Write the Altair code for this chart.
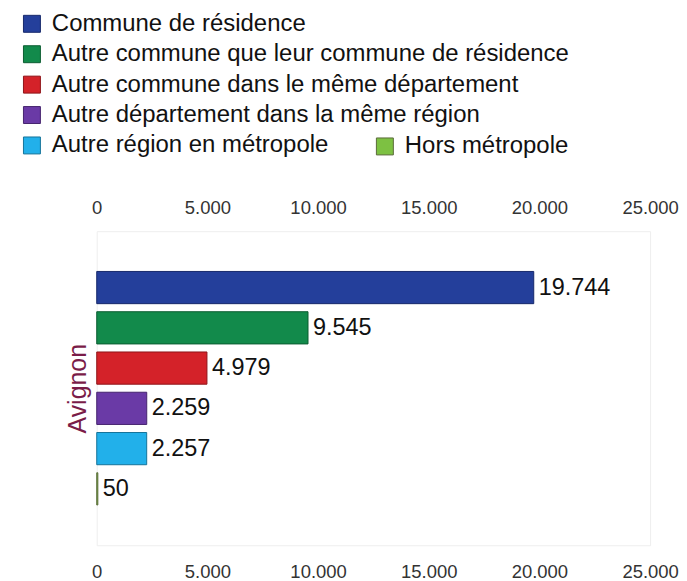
import altair as alt
import pandas as pd

# ---- data ----
categories = [
    "Commune de résidence",
    "Autre commune que leur commune de résidence",
    "Autre commune dans le même département",
    "Autre département dans la même région",
    "Autre région en métropole",
    "Hors métropole",
]
values = [19744, 9545, 4979, 2259, 2257, 50]
group_name = "Avignon"
x_ticks = [0, 5000, 10000, 15000, 20000, 25000]

fill_colors = ["#243f9b", "#128a4b", "#d42229", "#6a3aa6", "#22b0ea", "#7dc142"]
stroke_colors = ["#16286a", "#0b5c31", "#8f1519", "#45246e", "#15739a", "#5a6b3a"]

main_cats = categories[:5]
extra_cats = categories[5:]

df = pd.DataFrame({"cat": categories, "value": values})
df["label"] = [f"{v:,}".replace(",", ".") for v in values]
df["cat2"] = df["cat"]

FONT = "Liberation Sans"
label_expr = "replace(format(datum.value, ','), ',', '.')"

x_scale = alt.Scale(domain=[0, 25000], nice=False)
y_enc = alt.Y(
    "cat:N",
    sort=categories,
    title=group_name,
    scale=alt.Scale(domain=categories, paddingInner=0.2, paddingOuter=1),
    axis=alt.Axis(
        labels=False, ticks=False, domain=False, grid=False,
        titleFontSize=25, titleColor="#7a1c48", titleFontWeight="normal",
        titlePadding=6, titleFont=FONT,
    ),
)

legend_common = dict(
    orient="none",
    symbolType="square",
    symbolSize=289,
    symbolStrokeWidth=1,
    labelFontSize=24,
    labelFont=FONT,
    labelColor="#111111",
    labelOffset=8,
    rowPadding=6.5,
    labelLimit=600,
)
legend_main = alt.Legend(legendX=-77, legendY=-220, **legend_common)
legend_extra = alt.Legend(legendX=277, legendY=-97, **legend_common)

base = alt.Chart(df)

axis_common = dict(values=x_ticks, labelExpr=label_expr, ticks=False, domain=False,
                   grid=False, labelFontSize=18.5, labelColor="#333333", labelFont=FONT,
                   labelFlush=False, labelOverlap=False)

bars_main = base.transform_filter(
    alt.FieldOneOfPredicate(field="cat", oneOf=main_cats)
).mark_bar(strokeWidth=1).encode(
    x=alt.X("value:Q", scale=x_scale, title=None,
            axis=alt.Axis(orient="bottom", labelPadding=17, **axis_common)),
    y=y_enc,
    fill=alt.Fill("cat:N", title=None, sort=main_cats,
                  scale=alt.Scale(domain=main_cats, range=fill_colors[:5]),
                  legend=legend_main),
    stroke=alt.Stroke("cat:N", title=None, sort=main_cats,
                      scale=alt.Scale(domain=main_cats, range=stroke_colors[:5]),
                      legend=legend_main),
)

bars_extra = base.transform_filter(
    alt.FieldOneOfPredicate(field="cat", oneOf=extra_cats)
).mark_bar(strokeWidth=1).encode(
    x=alt.X("value:Q", scale=x_scale, title=None, axis=None),
    y=y_enc,
    fill=alt.Fill("cat2:N", title=None,
                  scale=alt.Scale(domain=extra_cats, range=fill_colors[5:]),
                  legend=legend_extra),
    stroke=alt.Stroke("cat2:N", title=None,
                      scale=alt.Scale(domain=extra_cats, range=stroke_colors[5:]),
                      legend=legend_extra),
)

text = base.mark_text(align="left", baseline="middle", dx=5, fontSize=23.5,
                      font=FONT, color="#111111").encode(
    x=alt.X("value:Q", scale=x_scale, title=None,
            axis=alt.Axis(orient="top", labelPadding=14, **axis_common)),
    y=y_enc,
    text="label:N",
)

chart = alt.layer(bars_main, bars_extra, text).resolve_scale(
    fill="independent", stroke="independent"
).properties(
    width=555,
    height=315,
    padding={"left": 89, "top": 223, "right": 29, "bottom": 36},
    autosize=alt.AutoSizeParams(type="none"),
    background="white",
).configure_view(stroke="#eeeeee", strokeWidth=1)

chart.save("out.html", embed_options={"renderer": "svg", "actions": False})
